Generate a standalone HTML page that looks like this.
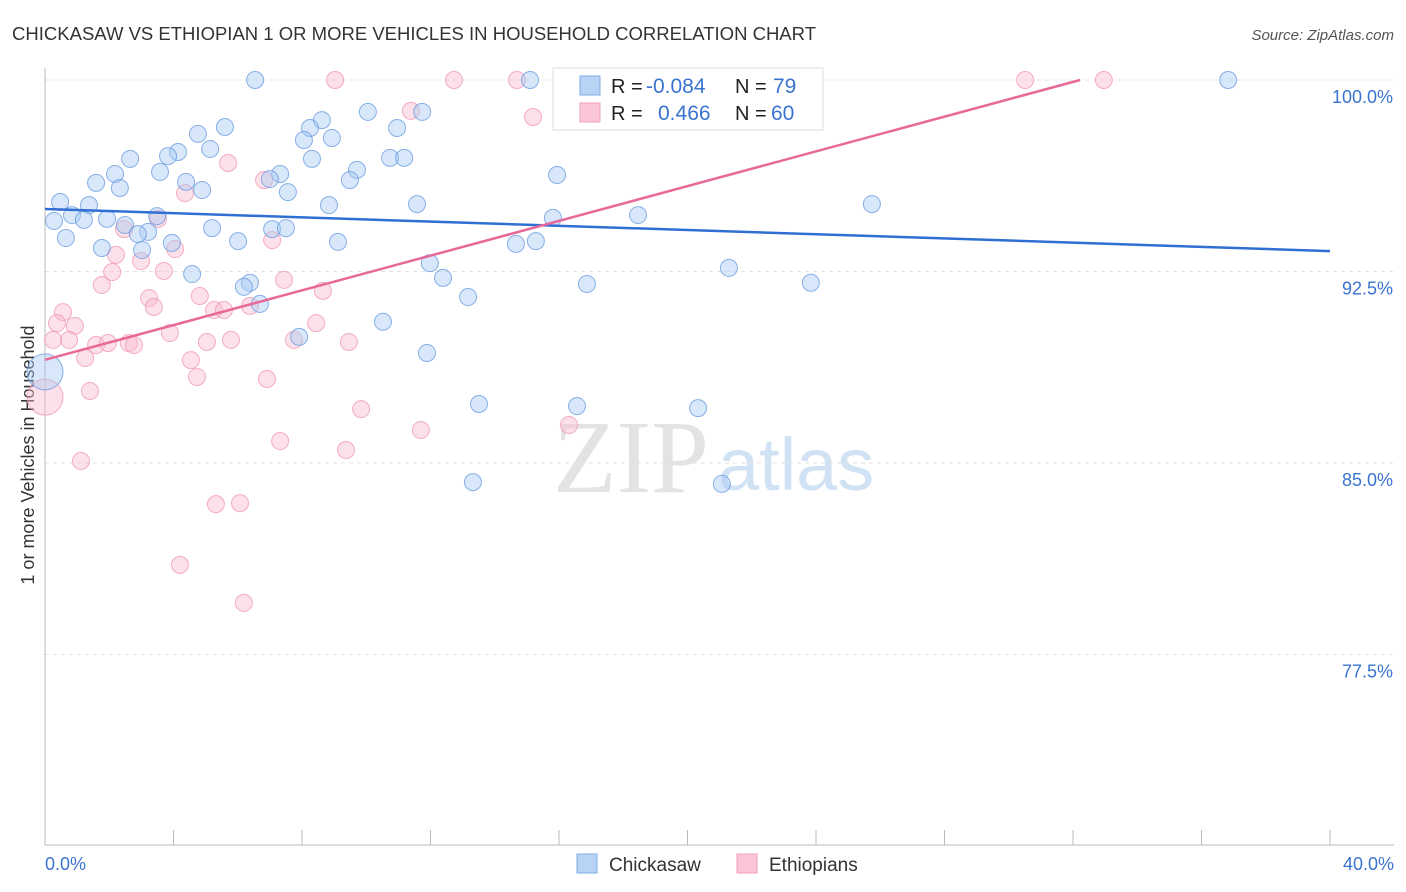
<!DOCTYPE html>
<html><head><meta charset="utf-8">
<style>
body{margin:0;background:#fff;font-family:"Liberation Sans",sans-serif;}
#wrap{position:relative;width:1406px;height:892px;overflow:hidden;}
</style></head>
<body>
<div id="wrap">
<svg id="svg" width="1406" height="892" xmlns="http://www.w3.org/2000/svg">
<text x="12" y="40" font-size="18" fill="#333" textLength="804" lengthAdjust="spacingAndGlyphs">CHICKASAW VS ETHIOPIAN 1 OR MORE VEHICLES IN HOUSEHOLD CORRELATION CHART</text>
<text x="1394" y="40" font-size="15" fill="#555" font-style="italic" text-anchor="end">Source: ZipAtlas.com</text>
<text transform="translate(34,455) rotate(-90)" font-size="18" fill="#333" text-anchor="middle">1 or more Vehicles in Household</text>
<g><text x="553" y="492" font-size="104" fill="#ddd" font-family="Liberation Serif" opacity="0.8">ZIP</text><text x="718" y="490" font-size="74" fill="#c7dcf3" opacity="0.8">atlas</text></g>
<g id="grid"></g>
<g id="axes"></g>
<g id="pts"></g>
<g id="lines"></g>
<g>
<rect x="553" y="68" width="270" height="62" fill="#fff" stroke="#ddd"/>
<rect x="580" y="76" width="20" height="19" fill="#b8d3f4" stroke="#7eaee8"/>
<rect x="580" y="103" width="20" height="19" fill="#fbc6d6" stroke="#f2a0b9"/>
<text x="611" y="93" font-size="20" fill="#222">R = </text><text x="646" y="93" font-size="21" fill="#3a74d0">-0.084</text>
<text x="735" y="93" font-size="20" fill="#222">N = </text><text x="773" y="93" font-size="21" fill="#3a74d0">79</text>
<text x="611" y="120" font-size="20" fill="#222">R = </text><text x="658" y="120" font-size="21" fill="#3a74d0">0.466</text>
<text x="735" y="120" font-size="20" fill="#222">N = </text><text x="771" y="120" font-size="21" fill="#3a74d0">60</text>
</g>
<g>
<rect x="577" y="854" width="20" height="19" fill="#b8d3f4" stroke="#7eaee8"/>
<text x="609" y="871" font-size="19" fill="#333">Chickasaw</text>
<rect x="737" y="854" width="20" height="19" fill="#fbc6d6" stroke="#f2a0b9"/>
<text x="769" y="871" font-size="19" fill="#333">Ethiopians</text>
</g>
</svg>
</div>
<script>
const yTicks=[100,92.5,85,77.5];
const yTickLabels=["100.0%","92.5%","85.0%","77.5%"];
const xTickLabels=["0.0%","40.0%"];
const blueX=[6.54,15.10,18.27,21.79,36.83,10.05,11.74,8.62,5.60,8.25,4.76,10.96,8.06,8.93,5.14,4.14,3.83,8.31,10.74,11.18,2.65,9.71,3.58,7.32,2.18,15.94,7.00,9.49,1.59,4.39,2.33,4.89,7.56,0.47,1.37,25.74,8.84,11.58,0.84,3.49,18.46,15.81,1.21,1.93,0.28,2.49,5.20,7.07,7.50,3.21,2.89,0.65,6.01,9.12,14.66,15.28,3.95,1.77,3.02,11.98,21.29,4.58,12.39,6.38,6.19,16.87,23.84,13.17,6.69,10.52,7.91,11.89,0,13.51,16.56,20.33,13.32,21.07];
const blueY=[100,100,100,100,100,98.75,98.75,98.43,98.16,98.12,97.89,98.12,97.65,97.73,97.30,97.18,97.02,96.91,96.95,96.95,96.91,96.48,96.40,96.32,96.32,96.28,96.12,96.08,95.97,96.01,95.77,95.69,95.61,95.22,95.10,95.14,95.10,95.14,94.71,94.67,94.71,94.60,94.52,94.56,94.48,94.32,94.20,94.16,94.20,94.05,93.97,93.81,93.69,93.66,93.58,93.69,93.62,93.42,93.34,92.83,92.64,92.40,92.25,92.06,91.90,92.01,92.06,91.50,91.23,90.53,89.94,89.31,88.57,87.31,87.23,87.15,84.25,84.18];
const pinkX=[9.03,12.73,14.69,20.70,30.51,32.96,11.39,15.19,5.70,6.82,4.36,3.52,7.07,2.46,4.05,2.99,2.21,3.70,2.09,1.77,4.82,3.24,3.39,7.44,8.65,6.38,5.26,5.57,0.56,0.37,0.93,8.44,0.75,0.25,1.59,1.96,2.61,2.77,5.04,5.79,7.75,9.46,3.89,1.25,4.54,4.73,6.91,1.40,0,9.84,11.70,16.31,7.32,9.37,1.12,5.32,6.07,4.20,6.19];
const pinkY=[100,100,100,100,100,100,98.79,98.55,96.75,96.08,95.57,94.56,93.73,94.16,93.38,92.91,93.15,92.52,92.48,91.97,91.54,91.46,91.11,92.17,91.74,91.15,90.99,90.99,90.91,90.48,90.37,90.48,89.82,89.82,89.62,89.70,89.70,89.62,89.74,89.82,89.82,89.74,90.09,89.11,89.03,88.37,88.29,87.82,87.58,87.11,86.29,86.49,85.86,85.51,85.08,83.39,83.43,81.01,79.52];
const blueLine=[94.95,93.30];
const pinkLine=[89.04,100.0,32.22];
const NS="http://www.w3.org/2000/svg";
const sx=v=>45+v/40*1285;
const sy=v=>80+(100-v)/7.5*191.5;
function mk(t,a,p){const e=document.createElementNS(NS,t);for(const k in a)e.setAttribute(k,a[k]);p.appendChild(e);return e;}
const grid=document.getElementById('grid'),axes=document.getElementById('axes'),pts=document.getElementById('pts'),lines=document.getElementById('lines');
yTicks.forEach((t,i)=>{
 const l=mk('line',{x1:45,x2:1394,y1:sy(t),y2:sy(t),stroke:'#e2e2e2','stroke-dasharray':'4,4'},grid);
 
 
 const tx=mk('text',{x:1393,y:sy(t)+23,'font-size':18,fill:'#3a74d0','text-anchor':'end'},axes);
 tx.textContent=yTickLabels[i];
 
 
});
mk('line',{x1:45,x2:45,y1:68,y2:845,stroke:'#bbb'},axes);
mk('line',{x1:45,x2:1394,y1:845,y2:845,stroke:'#bbb'},axes);
for(let i=1;i<=10;i++){const x=sx(i*4);mk('line',{x1:x,x2:x,y1:830,y2:845,stroke:'#bbb'},axes);}
const xl0=mk('text',{x:45,y:870,'font-size':18,fill:'#3a74d0'},axes);xl0.textContent=xTickLabels[0];


const xl1=mk('text',{x:1394,y:870,'font-size':18,fill:'#3a74d0','text-anchor':'end'},axes);xl1.textContent=xTickLabels[1];


function dots(X,Y,fill,stroke,name){X.forEach((x,i)=>{
 const r=(x===0)?18:8.5;
 const c=mk('circle',{cx:sx(x),cy:sy(Y[i]),r:r,fill:fill,'fill-opacity':0.45,stroke:stroke,'stroke-opacity':0.7,'stroke-width':1},pts);
 
 
});}
dots(pinkX,pinkY,'#f9bcd0','#ee8fae','ethiopian-point');
dots(blueX,blueY,'#a9c9f1','#5b93de','chickasaw-point');
const bl=mk('line',{x1:sx(0),y1:sy(blueLine[0]),x2:sx(40),y2:sy(blueLine[1]),stroke:'#2f6fd4','stroke-width':2.5},lines);


const pl=mk('line',{x1:sx(0),y1:sy(pinkLine[0]),x2:sx(pinkLine[2]),y2:sy(pinkLine[1]),stroke:'#e8689a','stroke-width':2.5},lines);


</script>
</body></html>
